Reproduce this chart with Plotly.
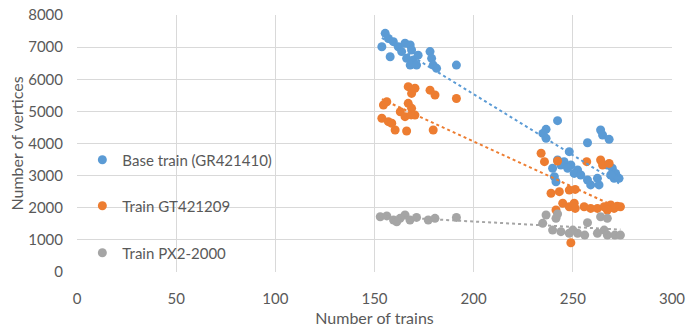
import numpy as np
import plotly.graph_objects as go

# ---------------- data ----------------
base_x = [155.4, 157.0, 153.7, 159.5, 157.9, 162.0, 165.4, 168.0, 168.7, 166.2,
          169.6, 168.0, 171.2, 178.0, 178.8, 179.6, 181.3, 191.3, 163.7, 172.0,
          242.3, 236.5, 234.9, 236.5, 264.0, 265.0, 268.3, 257.4, 248.2, 242.3,
          245.6, 249.0, 252.4, 250.7, 254.0, 239.8, 240.7, 241.5, 257.4, 259.0,
          263.2, 262.4, 267.4, 269.9, 271.6, 273.3, 270.8, 269.1, 244.0, 247.4]
base_y = [7430, 7270, 7010, 7170, 6700, 7010, 7120, 7065, 6910, 6650,
          6600, 6440, 6440, 6860, 6650, 6440, 6340, 6440, 6860, 6750,
          4710, 4440, 4315, 4160, 4420, 4265, 4130, 4025, 3745, 3485,
          3435, 3330, 3175, 3070, 3020, 3230, 2965, 2810, 2865, 2710,
          2710, 2915, 3330, 3230, 3070, 2915, 2915, 3020, 3330, 3230]

gt_x = [167.0, 170.4, 168.7, 178.0, 180.5, 191.3, 156.2, 154.5, 167.0, 168.7,
        163.0, 170.4, 165.4, 153.7, 157.0, 158.7, 160.4, 166.2, 179.6, 168.5,
        234.0, 235.7, 242.3, 257.0, 264.0, 265.0, 268.3, 239.0, 243.2, 248.2,
        251.2, 244.9, 248.2, 251.2, 255.7, 259.0, 262.4, 265.8, 269.1, 272.4,
        274.0, 270.8, 267.4, 241.5, 249.0, 250.7]
gt_y = [5770, 5720, 5560, 5660, 5510, 5400, 5300, 5200, 5250, 5095,
        4990, 4885, 4835, 4785, 4680, 4630, 4420, 4390, 4420, 4890,
        3695, 3435, 3455, 3435, 3485, 3330, 3380, 2450, 2500, 2550,
        2570, 2140, 2030, 1980, 2030, 1980, 1980, 2030, 2085, 2050,
        2030, 1980, 1930, 1930, 910, 2140]

px_x = [152.9, 156.2, 159.6, 165.4, 167.9, 171.2, 177.1, 180.5, 191.3, 162.9,
        161.2,
        234.8, 236.5, 242.3, 241.5, 239.8, 244.0, 248.2, 252.4, 256.0, 257.4,
        264.0, 267.4, 262.4, 267.4, 271.2, 274.0, 265.8, 250.0]
px_y = [1720, 1745, 1620, 1775, 1620, 1700, 1620, 1670, 1700, 1670,
        1565,
        1515, 1775, 1805, 1670, 1305, 1255, 1205, 1205, 1150, 1535,
        1720, 1670, 1205, 1150, 1150, 1150, 1305, 1305]

series_names = ["Base train (GR421410)", "Train GT421209", "Train PX2-2000"]
series_colors = ["#5B9BD5", "#ED7D31", "#A5A5A5"]
series_xy = [(base_x, base_y), (gt_x, gt_y), (px_x, px_y)]

x_ticks = [0, 50, 100, 150, 200, 250, 300]
y_ticks = [0, 1000, 2000, 3000, 4000, 5000, 6000, 7000, 8000]

FONT = "Lato"
TXT = "#595959"

fig = go.Figure()

legend_ids = ["legend", "legend2", "legend3"]
legend_ys = [0.436, 0.257, 0.074]

for (xs, ys), name, col, lid in zip(series_xy, series_names, series_colors, legend_ids):
    fig.add_trace(go.Scatter(
        x=xs, y=ys, mode="markers", name=name,
        marker=dict(color=col, size=9, line=dict(width=0)),
        legend=lid,
    ))

# linear trendlines (drawn on top like Excel)
for (xs, ys), col in zip(series_xy, series_colors):
    a, b = np.polyfit(xs, ys, 1)
    xr = np.array([min(xs), max(xs)])
    fig.add_trace(go.Scatter(
        x=xr, y=a * xr + b, mode="lines", showlegend=False, hoverinfo="skip",
        line=dict(color=col, width=2, dash="dot"),
    ))

layout_legends = {}
for lid, ly in zip(legend_ids, legend_ys):
    layout_legends[lid] = dict(
        x=0.009, xanchor="left", y=ly, yanchor="middle",
        bgcolor="rgba(0,0,0,0)", borderwidth=0,
        font=dict(family=FONT, size=15, color=TXT),
        itemsizing="trace",
    )

fig.update_layout(
    width=686, height=332,
    margin=dict(l=77, r=14, t=15, b=60),
    paper_bgcolor="white", plot_bgcolor="white",
    font=dict(family=FONT, size=15, color=TXT),
    showlegend=True,
    **layout_legends,
)

fig.update_xaxes(
    range=[0, 300], tickvals=x_ticks, ticktext=[str(v) for v in x_ticks],
    showgrid=True, gridcolor="#D9D9D9", gridwidth=1,
    zeroline=False, showline=False, automargin=False,
    ticklabeloverflow="allow",
    ticks="outside", ticklen=13, tickcolor="rgba(0,0,0,0)",
    tickfont=dict(family=FONT, size=15, color=TXT),
    title=dict(text="Number of trains", font=dict(family=FONT, size=16, color=TXT), standoff=6),
)
fig.update_yaxes(
    range=[0, 8000], tickvals=y_ticks, ticktext=[str(v) for v in y_ticks],
    showgrid=True, gridcolor="#D9D9D9", gridwidth=1,
    zeroline=False, showline=False, automargin=False,
    ticklabeloverflow="allow",
    ticks="outside", ticklen=10, tickcolor="rgba(0,0,0,0)",
    tickfont=dict(family=FONT, size=15, color=TXT),
    title=dict(text="Number of vertices", font=dict(family=FONT, size=16, color=TXT), standoff=0),
)

fig.write_html(
    "out.html",
    config={"displayModeBar": False},
    post_script="document.body.style.margin='0';document.body.style.padding='0';",
)
